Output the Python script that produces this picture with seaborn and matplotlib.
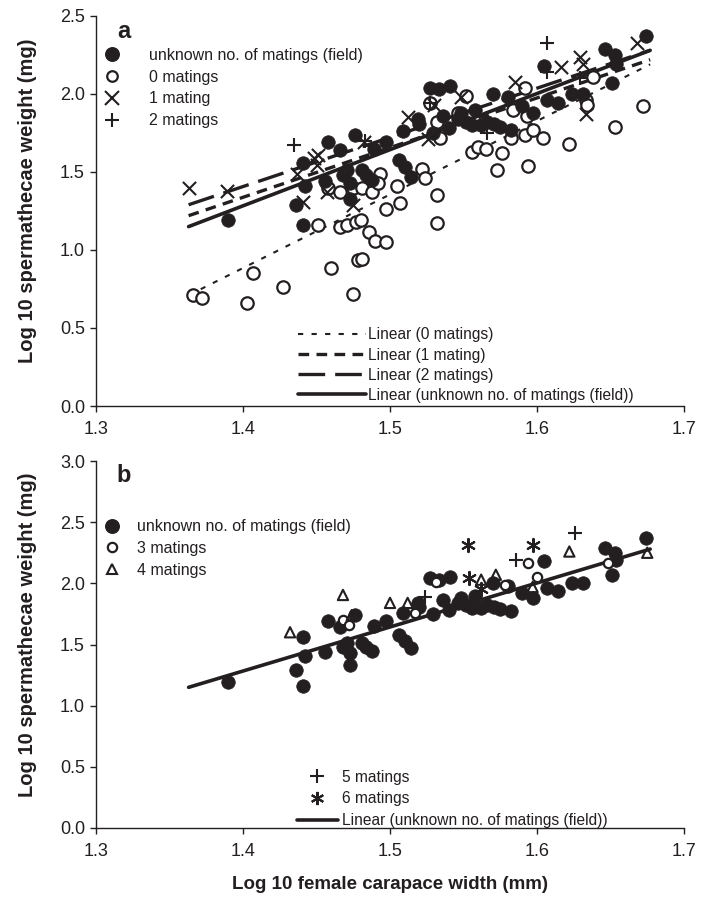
import numpy as np
import matplotlib
matplotlib.use("Agg")
import matplotlib.pyplot as plt
from matplotlib.lines import Line2D
import seaborn as sns

sns.set_theme(style="white")
plt.rcParams['font.family'] = ['Liberation Sans', 'DejaVu Sans']

C = '#231f20'

# ---------------- data ----------------
field_x = [1.390, 1.436, 1.441, 1.442, 1.441, 1.456, 1.458, 1.466, 1.468, 1.471,
           1.473, 1.473, 1.476, 1.481, 1.484, 1.488, 1.489, 1.497, 1.506, 1.510,
           1.514, 1.509, 1.519, 1.527, 1.533, 1.541, 1.529, 1.520, 1.536, 1.546,
           1.552, 1.556, 1.562, 1.566, 1.571, 1.582, 1.570, 1.575, 1.580, 1.590,
           1.597, 1.605, 1.607, 1.614, 1.624, 1.631, 1.646, 1.653, 1.654, 1.651,
           1.674, 1.548, 1.540, 1.558]
field_y = [1.19, 1.29, 1.16, 1.41, 1.56, 1.44, 1.69, 1.64, 1.48, 1.51,
           1.43, 1.33, 1.74, 1.51, 1.48, 1.45, 1.65, 1.69, 1.58, 1.53,
           1.47, 1.76, 1.84, 2.04, 2.03, 2.05, 1.75, 1.81, 1.86, 1.84,
           1.82, 1.80, 1.80, 1.82, 1.81, 1.77, 2.00, 1.79, 1.98, 1.92,
           1.88, 2.18, 1.96, 1.94, 2.00, 2.00, 2.29, 2.25, 2.19, 2.07,
           2.37, 1.88, 1.78, 1.90]

m0_x = [1.366, 1.372, 1.403, 1.407, 1.427, 1.451, 1.460, 1.466, 1.471, 1.477,
        1.478, 1.475, 1.458, 1.466, 1.475, 1.481, 1.486, 1.480, 1.481, 1.490,
        1.497, 1.488, 1.493, 1.492, 1.505, 1.497, 1.507, 1.522, 1.524, 1.532,
        1.532, 1.527, 1.552, 1.534, 1.532, 1.546, 1.556, 1.560, 1.565, 1.573,
        1.576, 1.594, 1.582, 1.592, 1.597, 1.604, 1.622, 1.653, 1.672, 1.584,
        1.593, 1.592, 1.633, 1.638, 1.634]
m0_y = [0.71, 0.69, 0.66, 0.85, 0.76, 1.16, 0.885, 1.15, 1.16, 1.18,
        0.935, 0.72, 1.40, 1.37, 1.40, 1.40, 1.115, 1.19, 0.94, 1.06,
        1.05, 1.37, 1.49, 1.43, 1.41, 1.26, 1.30, 1.52, 1.46, 1.35,
        1.17, 1.94, 1.99, 1.72, 1.82, 1.88, 1.63, 1.66, 1.65, 1.51,
        1.62, 1.54, 1.72, 1.74, 1.77, 1.72, 1.68, 1.79, 1.92, 1.90,
        1.86, 2.04, 1.96, 2.11, 1.93]

m1_x = [1.363, 1.389, 1.437, 1.441, 1.448, 1.451, 1.450, 1.457, 1.475, 1.482,
        1.512, 1.526, 1.548, 1.585, 1.616, 1.629, 1.631, 1.633, 1.668, 1.530]
m1_y = [1.40, 1.38, 1.49, 1.31, 1.59, 1.61, 1.545, 1.37, 1.29, 1.69,
        1.85, 1.71, 1.98, 2.08, 2.17, 2.24, 2.19, 1.87, 2.33, 1.93]

m2_x = [1.435, 1.483, 1.527, 1.566, 1.607, 1.607, 1.629]
m2_y = [1.67, 1.70, 1.94, 1.75, 2.33, 2.14, 2.10]

m3_x = [1.468, 1.472, 1.517, 1.531, 1.578, 1.594, 1.600, 1.648]
m3_y = [1.70, 1.66, 1.76, 2.01, 1.99, 2.17, 2.05, 2.17]

m4_x = [1.432, 1.468, 1.474, 1.500, 1.512, 1.562, 1.572, 1.597, 1.622, 1.675]
m4_y = [1.60, 1.905, 1.74, 1.84, 1.84, 2.03, 2.07, 1.97, 2.26, 2.25]

m5_x = [1.524, 1.586, 1.626]
m5_y = [1.89, 2.19, 2.41]

m6_x = [1.553, 1.597, 1.554, 1.562]
m6_y = [2.31, 2.31, 2.04, 1.95]

# trendline end points
fit_x = [1.363, 1.677]
fit_field = [1.15, 2.28]
fit_m0 = [0.71, 2.19]
fit_m1 = [1.22, 2.22]
fit_m2 = [1.29, 2.28]

labels_a = ["unknown no. of matings (field)", "0 matings", "1 mating", "2 matings"]
labels_a_lines = ["Linear (0 matings)", "Linear (1 mating)", "Linear (2 matings)",
                  "Linear (unknown no. of matings (field))"]
labels_b = ["unknown no. of matings (field)", "3 matings", "4 matings"]
labels_b2 = ["5 matings", "6 matings", "Linear (unknown no. of matings (field))"]

xticks = [1.3, 1.4, 1.5, 1.6, 1.7]
yticks_a = [0.0, 0.5, 1.0, 1.5, 2.0, 2.5]
yticks_b = [0.0, 0.5, 1.0, 1.5, 2.0, 2.5, 3.0]

# ---------------- styles ----------------
S_FILL = 95
S_OPEN = 80
S_X = 90
S_SMALL = 45
S_TRI = 55

ls_m0 = (0, (2.5, 4.0))
ls_m1 = (0, (3.2, 2.2))
ls_m2 = (0, (8.0, 3.0))

fig = plt.figure(figsize=(7.13, 9.08), dpi=100)
W, H = 713, 908
axa = fig.add_axes([96 / W, 1 - 406 / H, 588 / W, 390 / H])
axb = fig.add_axes([96 / W, 1 - 828 / H, 588 / W, 367 / H])

# ---- panel a ----
sns.lineplot(x=fit_x, y=fit_m0, ax=axa, color=C, lw=1.5, linestyle=ls_m0)
sns.lineplot(x=fit_x, y=fit_m1, ax=axa, color=C, lw=2.4, linestyle=ls_m1)
sns.lineplot(x=fit_x, y=fit_m2, ax=axa, color=C, lw=2.4, linestyle=ls_m2)
sns.lineplot(x=fit_x, y=fit_field, ax=axa, color=C, lw=2.6)

sns.scatterplot(x=m0_x, y=m0_y, ax=axa, marker='o', s=S_OPEN, facecolor='white',
                edgecolor=C, linewidth=1.6, zorder=3)
sns.scatterplot(x=field_x, y=field_y, ax=axa, marker='o', s=S_FILL, facecolor=C,
                edgecolor=C, linewidth=0.5, zorder=4)
sns.scatterplot(x=m1_x, y=m1_y, ax=axa, marker='x', s=S_X, color=C, linewidth=1.5, zorder=5)
sns.scatterplot(x=m2_x, y=m2_y, ax=axa, marker='+', s=S_X, color=C, linewidth=1.5, zorder=5)

# ---- panel b ----
sns.lineplot(x=fit_x, y=fit_field, ax=axb, color=C, lw=2.6)
sns.scatterplot(x=field_x, y=field_y, ax=axb, marker='o', s=S_FILL, facecolor=C,
                edgecolor=C, linewidth=0.5, zorder=3)
sns.scatterplot(x=m3_x, y=m3_y, ax=axb, marker='o', s=S_SMALL, facecolor='white',
                edgecolor=C, linewidth=1.6, zorder=4)
sns.scatterplot(x=m4_x, y=m4_y, ax=axb, marker='^', s=S_TRI, facecolor='none',
                edgecolor=C, linewidth=1.5, zorder=4)
sns.scatterplot(x=m5_x, y=m5_y, ax=axb, marker='+', s=S_X, color=C, linewidth=1.5, zorder=5)
sns.scatterplot(x=m6_x, y=m6_y, ax=axb, marker=(6, 2, 0), s=S_X, color=C, linewidth=1.5, zorder=5)

# ---- axes styling ----
for ax, yt, ymax in [(axa, yticks_a, 2.5), (axb, yticks_b, 3.0)]:
    ax.set_xlim(1.3, 1.7)
    ax.set_ylim(0, ymax)
    ax.set_xticks(xticks)
    ax.set_xticklabels([f"{v:.1f}" for v in xticks])
    ax.set_yticks(yt)
    ax.set_yticklabels([f"{v:.1f}" for v in yt])
    for sp in ['top', 'right']:
        ax.spines[sp].set_visible(False)
    for sp in ['left', 'bottom']:
        ax.spines[sp].set_color(C)
        ax.spines[sp].set_linewidth(1.0)
    ax.tick_params(axis='both', direction='out', length=4, width=1.0, color=C,
                   labelsize=13, labelcolor=C, left=True, bottom=True)
    ax.tick_params(axis='x', pad=7)
    ax.tick_params(axis='y', pad=4)
    ax.set_ylabel("Log 10 spermathecae weight (mg)", fontsize=14.5, fontweight='bold', color=C)
    ax.yaxis.set_label_coords(-0.100, 0.527)
    ax.grid(False)

axb.set_xlabel("Log 10 female carapace width (mm)", fontsize=13.5, fontweight='bold', color=C)
axb.xaxis.set_label_coords(0.5, -0.155)
axb.xaxis.label.set_va('center')

axa.text(0.047, 0.96, "a", transform=axa.transAxes, fontsize=17, fontweight='bold',
         color=C, ha='center', va='center')
axb.text(0.047, 0.96, "b", transform=axb.transAxes, fontsize=17, fontweight='bold',
         color=C, ha='center', va='center')

ms_fill = np.sqrt(S_FILL)
ms_open = np.sqrt(S_OPEN)
ms_x = np.sqrt(S_X)

LS = 0.42

h_a = [Line2D([], [], ls='none', marker='o', ms=ms_fill, mfc=C, mec=C),
       Line2D([], [], ls='none', marker='o', ms=ms_open * 0.85, mfc='white', mec=C, mew=1.6),
       Line2D([], [], ls='none', marker='x', ms=ms_x, mec=C, mew=1.5),
       Line2D([], [], ls='none', marker='+', ms=ms_x, mec=C, mew=1.5)]
leg1 = axa.legend(h_a, labels_a, loc='upper left', bbox_to_anchor=(0.014, 0.918),
                  frameon=False, fontsize=11.5, handlelength=1.0, handletextpad=1.8,
                  labelspacing=LS, borderpad=0, borderaxespad=0)
for t in leg1.get_texts():
    t.set_color(C)
axa.add_artist(leg1)

h_a2 = [Line2D([], [], color=C, lw=1.5, ls=ls_m0),
        Line2D([], [], color=C, lw=2.4, ls=ls_m1),
        Line2D([], [], color=C, lw=2.4, ls=ls_m2),
        Line2D([], [], color=C, lw=2.6)]
leg2 = axa.legend(h_a2, labels_a_lines, loc='lower left', bbox_to_anchor=(0.343, 0.008),
                  frameon=False, fontsize=11.2, handlelength=4.4, handletextpad=0.1,
                  labelspacing=0.33, borderpad=0, borderaxespad=0)
for t in leg2.get_texts():
    t.set_color(C)

h_b = [Line2D([], [], ls='none', marker='o', ms=ms_fill, mfc=C, mec=C),
       Line2D([], [], ls='none', marker='o', ms=np.sqrt(S_SMALL), mfc='white', mec=C, mew=1.6),
       Line2D([], [], ls='none', marker='^', ms=np.sqrt(S_TRI), mfc='none', mec=C, mew=1.5)]
leg3 = axb.legend(h_b, labels_b, loc='upper left', bbox_to_anchor=(0.014, 0.841),
                  frameon=False, fontsize=11.5, handlelength=1.0, handletextpad=1.05,
                  labelspacing=LS, borderpad=0, borderaxespad=0)
for t in leg3.get_texts():
    t.set_color(C)
axb.add_artist(leg3)

h_b2 = [Line2D([], [], ls='none', marker='+', ms=ms_x, mec=C, mew=1.5),
        Line2D([], [], ls='none', marker=(6, 2, 0), ms=ms_x, mec=C, mew=1.5),
        Line2D([], [], color=C, lw=2.6)]
leg4 = axb.legend(h_b2, labels_b2, loc='lower left', bbox_to_anchor=(0.342, 0.0),
                  frameon=False, fontsize=11.2, handlelength=2.6, handletextpad=0.3,
                  labelspacing=LS, borderpad=0, borderaxespad=0)
for t in leg4.get_texts():
    t.set_color(C)

fig.savefig("out.png", dpi=100, facecolor='white')
